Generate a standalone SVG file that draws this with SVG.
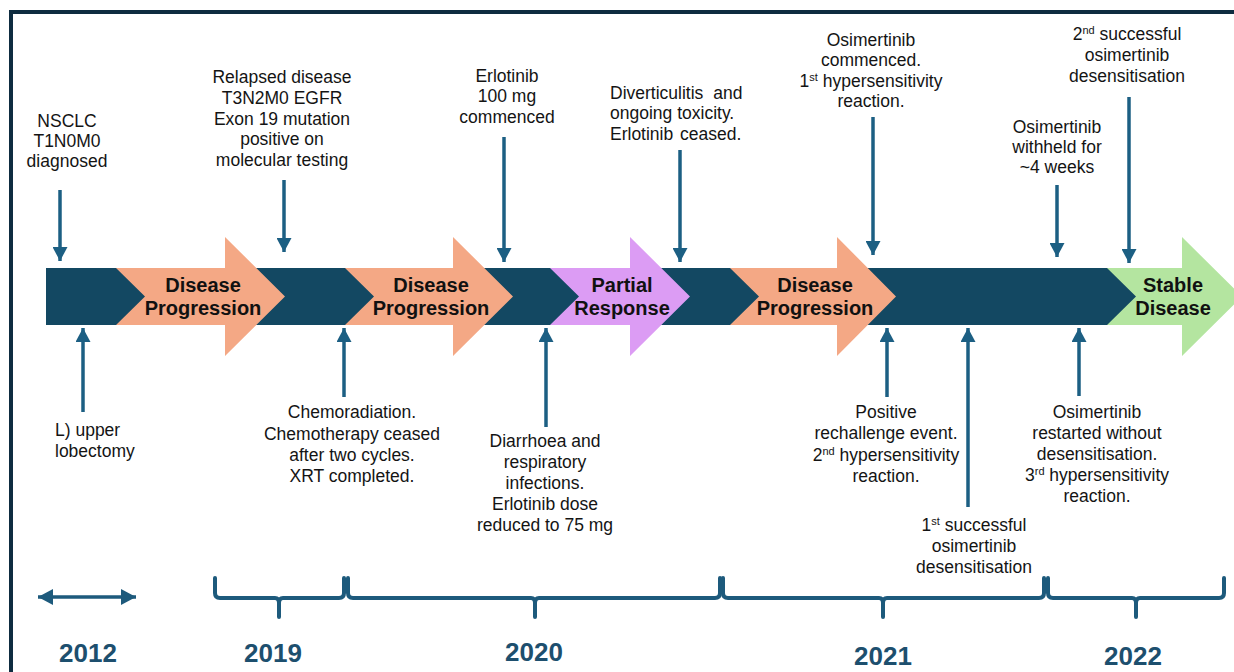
<svg xmlns="http://www.w3.org/2000/svg" width="1234" height="672" viewBox="0 0 1234 672">
  <style>
    .lbl { font-family: "Liberation Sans", Arial, sans-serif; font-size: 17.5px; fill: #141414; text-anchor: middle; }
    .lbl-start { text-anchor: start; }
    .phase { font-family: "Liberation Sans", Arial, sans-serif; font-size: 20px; font-weight: bold; fill: #111; text-anchor: middle; }
    .year { font-family: "Liberation Sans", Arial, sans-serif; font-size: 26px; font-weight: bold; fill: #1d4f6e; text-anchor: middle; }
    .sup { font-size: 11px; }
    .conn { stroke: #1c5f83; stroke-width: 3.5; fill: none; marker-end: url(#head); }
    .brace { stroke: #1d5a7c; stroke-width: 4; fill: none; stroke-linecap: round; stroke-linejoin: round; }
    .orange { fill: #f4a885; }
    .purple { fill: #dc9cf4; }
    .green { fill: #b4e5a0; }
  </style>
  <defs>
    <marker id="head" markerUnits="userSpaceOnUse" markerWidth="15" markerHeight="15" refX="14" refY="7.5" orient="auto">
      <path d="M0,0 L14,7.5 L0,15 Z" fill="#1c5f83"/>
    </marker>
    <marker id="headBoth" markerUnits="userSpaceOnUse" markerWidth="16" markerHeight="16" refX="15" refY="8" orient="auto-start-reverse">
      <path d="M0,0 L15,8 L0,16 Z" fill="#1d5a7c"/>
    </marker>
  </defs>

  <rect width="1234" height="672" fill="#ffffff"/>
  <!-- outer frame -->
  <rect x="11" y="12" width="1240" height="680" fill="none" stroke="#0e2c40" stroke-width="4"/>

  <!-- timeline band -->
  <g id="band">
    <rect x="46" y="268" width="1100" height="57" fill="#134862"/>
  </g>

  <g id="phase-progression-1">
    <path class="orange" d="M116,268 H225 V237 L285,296.5 L225,356 V325 H116 L145,296.5 Z"/>
    <text class="phase" x="203" y="292">Disease</text>
    <text class="phase" x="203" y="315">Progression</text>
  </g>
  <g id="phase-progression-2">
    <path class="orange" d="M345,268 H453 V237 L513,296.5 L453,356 V325 H345 L374,296.5 Z"/>
    <text class="phase" x="431" y="292">Disease</text>
    <text class="phase" x="431" y="315">Progression</text>
  </g>
  <g id="phase-partial-response">
    <path class="purple" d="M550,268 H630 V237 L690,296.5 L630,356 V325 H550 L579,296.5 Z"/>
    <text class="phase" x="622" y="292">Partial</text>
    <text class="phase" x="622" y="315">Response</text>
  </g>
  <g id="phase-progression-3">
    <path class="orange" d="M730,268 H837 V237 L896,296.5 L837,356 V325 H730 L759,296.5 Z"/>
    <text class="phase" x="815" y="292">Disease</text>
    <text class="phase" x="815" y="315">Progression</text>
  </g>
  <g id="phase-stable">
    <path class="green" d="M1107,268 H1182 V237 L1242,296.5 L1182,356 V325 H1107 L1136,296.5 Z"/>
    <text class="phase" x="1173" y="292">Stable</text>
    <text class="phase" x="1173" y="315">Disease</text>
  </g>

  <!-- event pointers -->
  <g id="connectors">
    <line class="conn" x1="60" y1="190" x2="60" y2="261"/>
    <line class="conn" x1="284" y1="180" x2="284" y2="252"/>
    <line class="conn" x1="504" y1="137" x2="504" y2="262"/>
    <line class="conn" x1="680" y1="150" x2="680" y2="262"/>
    <line class="conn" x1="873" y1="117" x2="873" y2="255"/>
    <line class="conn" x1="1057" y1="185" x2="1057" y2="257"/>
    <line class="conn" x1="1129" y1="97" x2="1129" y2="263"/>

    <line class="conn" x1="83" y1="412" x2="83" y2="328"/>
    <line class="conn" x1="344" y1="397" x2="344" y2="328"/>
    <line class="conn" x1="546" y1="427" x2="546" y2="328"/>
    <line class="conn" x1="887" y1="397" x2="887" y2="328"/>
    <line class="conn" x1="968" y1="507" x2="968" y2="328"/>
    <line class="conn" x1="1079" y1="396" x2="1079" y2="328"/>
  </g>

  <!-- events above the band -->
  <g id="ev-diagnosis">
    <text class="lbl" x="67" y="127">NSCLC</text>
    <text class="lbl" x="67" y="147">T1N0M0</text>
    <text class="lbl" x="67" y="167">diagnosed</text>
  </g>
  <g id="ev-relapse">
    <text class="lbl" x="282" y="83">Relapsed disease</text>
    <text class="lbl" x="282" y="104">T3N2M0 EGFR</text>
    <text class="lbl" x="282" y="125">Exon 19 mutation</text>
    <text class="lbl" x="282" y="145">positive on</text>
    <text class="lbl" x="282" y="166">molecular testing</text>
  </g>
  <g id="ev-erlotinib-start">
    <text class="lbl" x="507" y="82">Erlotinib</text>
    <text class="lbl" x="507" y="102">100 mg</text>
    <text class="lbl" x="507" y="123">commenced</text>
  </g>
  <g id="ev-erlotinib-ceased">
    <text class="lbl lbl-start" x="610" y="99" word-spacing="5">Diverticulitis and</text>
    <text class="lbl lbl-start" x="610" y="119">ongoing toxicity.</text>
    <text class="lbl lbl-start" x="610" y="140" word-spacing="2">Erlotinib ceased.</text>
  </g>
  <g id="ev-osimertinib-start">
    <text class="lbl" x="871" y="46">Osimertinib</text>
    <text class="lbl" x="871" y="66">commenced.</text>
    <text class="lbl" x="871" y="87">1<tspan class="sup" dy="-6">st</tspan><tspan dy="6"> hypersensitivity</tspan></text>
    <text class="lbl" x="871" y="107">reaction.</text>
  </g>
  <g id="ev-osimertinib-withheld">
    <text class="lbl" x="1057" y="133">Osimertinib</text>
    <text class="lbl" x="1057" y="153">withheld for</text>
    <text class="lbl" x="1057" y="173">~4 weeks</text>
  </g>
  <g id="ev-desens-2">
    <text class="lbl" x="1127" y="40">2<tspan class="sup" dy="-6">nd</tspan><tspan dy="6"> successful</tspan></text>
    <text class="lbl" x="1127" y="61">osimertinib</text>
    <text class="lbl" x="1127" y="82">desensitisation</text>
  </g>

  <!-- events below the band -->
  <g id="ev-lobectomy">
    <text class="lbl lbl-start" x="55" y="436">L) upper</text>
    <text class="lbl lbl-start" x="55" y="457">lobectomy</text>
  </g>
  <g id="ev-chemoradiation">
    <text class="lbl" x="352" y="418">Chemoradiation.</text>
    <text class="lbl" x="352" y="440">Chemotherapy ceased</text>
    <text class="lbl" x="352" y="461">after two cycles.</text>
    <text class="lbl" x="352" y="482">XRT completed.</text>
  </g>
  <g id="ev-dose-reduction">
    <text class="lbl" x="545" y="447">Diarrhoea and</text>
    <text class="lbl" x="545" y="468">respiratory</text>
    <text class="lbl" x="545" y="489">infections.</text>
    <text class="lbl" x="545" y="510">Erlotinib dose</text>
    <text class="lbl" x="545" y="531">reduced to 75 mg</text>
  </g>
  <g id="ev-rechallenge">
    <text class="lbl" x="886" y="418">Positive</text>
    <text class="lbl" x="886" y="439">rechallenge event.</text>
    <text class="lbl" x="886" y="461">2<tspan class="sup" dy="-6">nd</tspan><tspan dy="6"> hypersensitivity</tspan></text>
    <text class="lbl" x="886" y="482">reaction.</text>
  </g>
  <g id="ev-desens-1">
    <text class="lbl" x="974" y="531">1<tspan class="sup" dy="-6">st</tspan><tspan dy="6"> successful</tspan></text>
    <text class="lbl" x="974" y="552">osimertinib</text>
    <text class="lbl" x="974" y="573">desensitisation</text>
  </g>
  <g id="ev-restart">
    <text class="lbl" x="1097" y="418">Osimertinib</text>
    <text class="lbl" x="1097" y="439">restarted without</text>
    <text class="lbl" x="1097" y="460">desensitisation.</text>
    <text class="lbl" x="1097" y="481">3<tspan class="sup" dy="-6">rd</tspan><tspan dy="6"> hypersensitivity</tspan></text>
    <text class="lbl" x="1097" y="502">reaction.</text>
  </g>

  <!-- year spans -->
  <g id="year-2012">
    <line x1="38" y1="597" x2="136" y2="597" stroke="#1d5a7c" stroke-width="3.5" marker-start="url(#headBoth)" marker-end="url(#headBoth)"/>
    <text class="year" x="88" y="662">2012</text>
  </g>
  <g id="year-2019">
    <path class="brace" d="M215,578 V593 Q215,598 220,598 H275 Q279,598 279,603 V617 M279,603 Q279,598 283,598 H339 Q344,598 344,593 V578"/>
    <text class="year" x="273" y="662">2019</text>
  </g>
  <g id="year-2020">
    <path class="brace" d="M348,578 V593 Q348,598 353,598 H531 Q535,598 535,603 V617 M535,603 Q535,598 539,598 H715 Q720,598 720,593 V578"/>
    <text class="year" x="534" y="661">2020</text>
  </g>
  <g id="year-2021">
    <path class="brace" d="M723,578 V593 Q723,598 728,598 H879 Q883,598 883,603 V617 M883,603 Q883,598 887,598 H1039 Q1044,598 1044,593 V578"/>
    <text class="year" x="883" y="665">2021</text>
  </g>
  <g id="year-2022">
    <path class="brace" d="M1048,578 V593 Q1048,598 1053,598 H1132 Q1136,598 1136,603 V617 M1136,603 Q1136,598 1140,598 H1219 Q1224,598 1224,593 V578"/>
    <text class="year" x="1133" y="665">2022</text>
  </g>
</svg>
